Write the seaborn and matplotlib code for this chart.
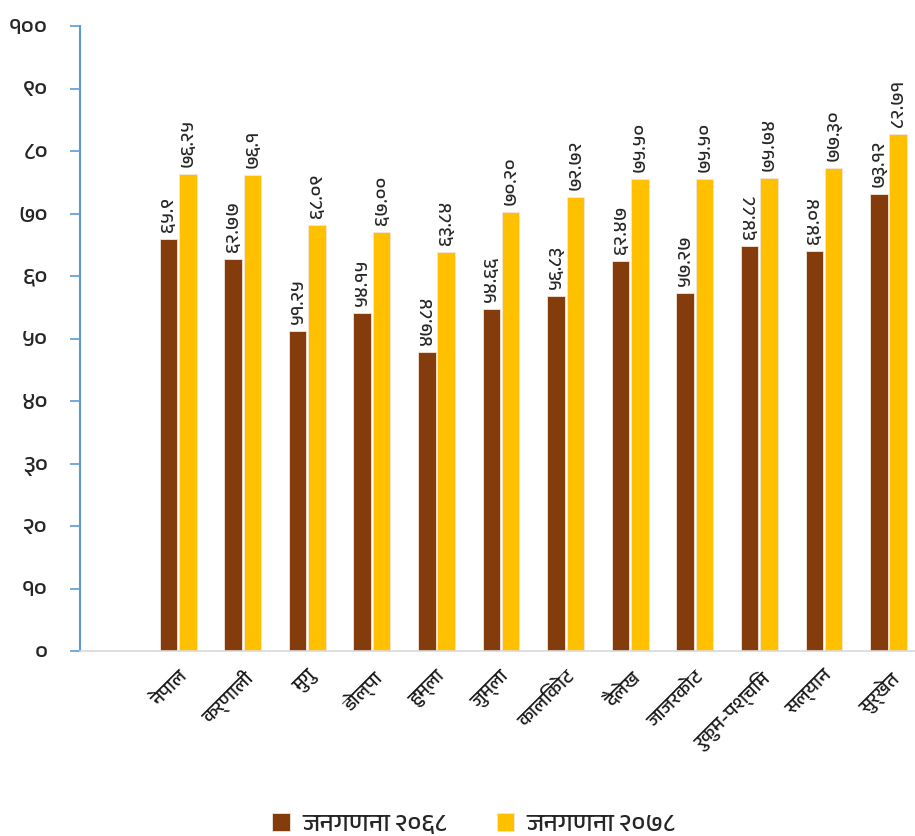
import numpy as np
import pandas as pd
import seaborn as sns
from matplotlib import pyplot as plt
from matplotlib import font_manager

districts = ["नेपाल", "कर्णाली", "मुगु", "डोल्पा", "हुम्ला", "जुम्ला", "कालिकोट",
             "दैलेख", "जाजरकोट", "रुकुम-पश्चिम", "सल्यान", "सुर्खेत"]
# printed figures (kept as text so the label keeps its decimals)
census_2068 = ["65.9", "62.77", "51.25", "54.15", "47.84", "54.66", "56.83",
               "62.47", "57.27", "64.88", "64.04", "73.12"]
census_2078 = ["76.25", "76.1", "68.09", "67.00", "63.84", "70.20", "72.72",
               "75.50", "75.50", "75.74", "77.30", "82.71"]
series_names = ["जनगणना २०६८", "जनगणना २०७८"]
y_ticks = [0, 10, 20, 30, 40, 50, 60, 70, 80, 90, 100]

dev = str.maketrans("0123456789", "०१२३४५६७८९")

sns.set_theme(style="white")
names = [f.name for f in font_manager.fontManager.ttflist]
deva = [n for n in sorted(set(names)) if "Devanagari" in n or "Lohit" in n or "Mukta" in n]
plt.rcParams['font.family'] = deva + ['Noto Sans', 'DejaVu Sans']

rows = []
for d, a, b in zip(districts, census_2068, census_2078):
    rows.append((d, series_names[0], float(a)))
    rows.append((d, series_names[1], float(b)))
df = pd.DataFrame(rows, columns=["district", "census", "value"])

fig = plt.figure(figsize=(9.15, 8.36), dpi=100)
ax = fig.add_axes([80/915, 1-651/836, 835/915, 625/836])

sns.barplot(data=df, x="district", y="value", hue="census",
            palette=["#843C0C", "#FFC000"], saturation=1, width=0.6, gap=0.1,
            edgecolor="#F4E6DA", linewidth=0.6, ax=ax, legend=True)

for cont, vals in zip(ax.containers, [census_2068, census_2078]):
    ax.bar_label(cont, labels=[v.translate(dev) for v in vals], rotation=90,
                 padding=5, fontsize=14, fontweight="semibold", color="#262626")

ax.set_ylim(0, 100)
ax.set_xlim(-1.52, 11.41)
ax.set_yticks(y_ticks)
ax.set_yticklabels([str(t).translate(dev) for t in y_ticks], fontsize=17,
                   fontweight="semibold", color="#262626")
ax.set_xticks(range(len(districts)))
ax.set_xticklabels(districts, rotation=45, ha="right", rotation_mode="anchor",
                   fontsize=14, color="#1a1a1a")
ax.tick_params(axis="y", left=True, length=7, width=1.2, color="#5B9BD5",
               direction="out", pad=16)
ax.tick_params(axis="x", length=0, pad=12)
ax.set_xlabel("")
ax.set_ylabel("")
for s in ["top", "right"]:
    ax.spines[s].set_visible(False)
ax.spines["left"].set_color("#5B9BD5")
ax.spines["left"].set_linewidth(1.5)
ax.spines["bottom"].set_color("#D9D9D9")
ax.spines["bottom"].set_linewidth(1.2)

h, l = ax.get_legend_handles_labels()
ax.legend(h, l, loc="center", bbox_to_anchor=((474 - 80) / 835, -(824 - 651) / 625),
          ncol=2, frameon=False, fontsize=18, handlelength=0.7, handleheight=0.7,
          columnspacing=2.0, handletextpad=0.5)

fig.savefig("out.png", dpi=100)
